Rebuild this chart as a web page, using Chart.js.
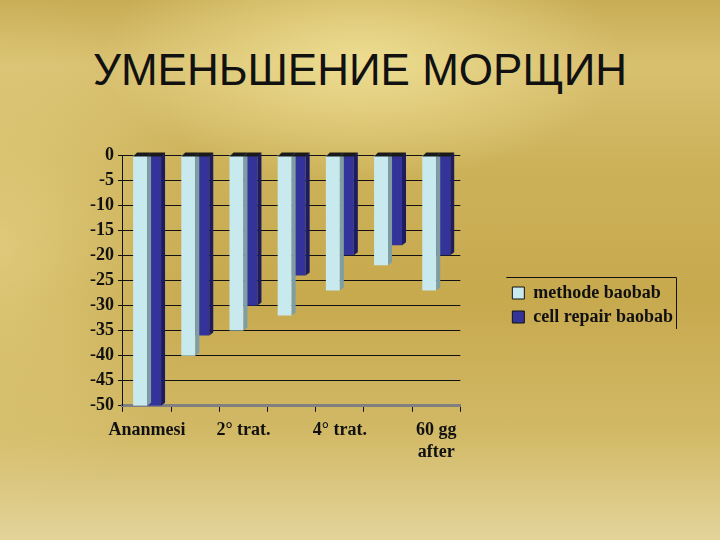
<!DOCTYPE html>
<html>
<head>
<meta charset="utf-8">
<script src="https://cdn.jsdelivr.net/npm/chart.js@4.4.0/dist/chart.umd.min.js"></script>
<style>
  html, body { margin: 0; padding: 0; }
  body {
    width: 720px; height: 540px; overflow: hidden; position: relative;
    background:
      radial-gradient(ellipse 260px 120px at 360px 60px, rgba(240,225,150,0.85), rgba(240,225,150,0) 100%),
      radial-gradient(ellipse 200px 260px at 0px 250px, rgba(232,214,140,0.7), rgba(232,214,140,0) 100%),
      linear-gradient(180deg, #c9ad55 0%, #d8c070 12%, #cdb25a 30%, #c7a94e 55%, #d2b966 80%, #e3d49a 100%);
  }
  #title {
    position: absolute; left: 0; top: 45px; width: 720px; text-align: center;
    font-family: "Liberation Sans", Arial, sans-serif; font-size: 44px; color: #111;
  }
  #wrap { position: absolute; left: 60px; top: 130px; width: 640px; height: 350px; }
</style>
</head>
<body>
<div id="title">УМЕНЬШЕНИЕ МОРЩИН</div>
<div id="wrap"><canvas id="chart"></canvas></div>
<script>
// categorie (solo una su due viene mostrata sull'asse)
const categories = ['Ananmesi', '1° trat.', '2° trat.', '3° trat.', '4° trat.', '5° trat.', ['60 gg', 'after']];
const methodeBaobab = [-50, -40, -35, -32, -27, -22, -27];
const cellRepairBaobab = [-50, -36, -30, -24, -20, -18, -20];
const yTicks = [0, -5, -10, -15, -20, -25, -30, -35, -40, -45, -50];

const serifFamily = '"Liberation Serif", "Times New Roman", serif';

// lato e cima scuri delle barre, per dare un po' di profondità
const barDepth = {
  id: 'barDepth',
  afterDatasetsDraw(chart) {
    const ctx = chart.ctx;
    const shades = ['#7f9ea3', '#1c1c5e'];
    chart.data.datasets.forEach((ds, i) => {
      chart.getDatasetMeta(i).data.forEach(bar => {
        const l = bar.x - bar.width / 2;
        const r = bar.x + bar.width / 2;
        const top = bar.base;
        const bottom = bar.y;
        ctx.save();
        ctx.fillStyle = shades[i];
        ctx.beginPath();
        ctx.moveTo(r, top);
        ctx.lineTo(r + 4, top - 3);
        ctx.lineTo(r + 4, bottom - 3);
        ctx.lineTo(r, bottom);
        ctx.closePath();
        ctx.fill();
        ctx.fillStyle = '#1a1a1a';
        ctx.beginPath();
        ctx.moveTo(l, top + 1);
        ctx.lineTo(l + 4, top - 3);
        ctx.lineTo(r + 4, top - 3);
        ctx.lineTo(r, top + 1);
        ctx.closePath();
        ctx.fill();
        ctx.restore();
      });
    });
  }
};

// cornice della legenda (solo bordo superiore e destro)
const legendFrame = {
  id: 'legendFrame',
  afterDraw(chart) {
    const lg = chart.legend;
    if (!lg || !lg.legendHitBoxes.length) return;
    const ctx = chart.ctx;
    const first = lg.legendHitBoxes[0];
    const last = lg.legendHitBoxes[lg.legendHitBoxes.length - 1];
    const x0 = first.left - 6;
    const x1 = Math.round(lg.right - 7);
    const y0 = Math.round(first.top - 7);
    const y1 = last.top + last.height + 3;
    ctx.save();
    ctx.strokeStyle = '#111';
    ctx.lineWidth = 1;
    ctx.beginPath();
    ctx.moveTo(x0, y0 + 0.5);
    ctx.lineTo(x1 + 0.5, y0 + 0.5);
    ctx.lineTo(x1 + 0.5, y1);
    ctx.stroke();
    ctx.restore();
  }
};

new Chart(document.getElementById('chart'), {
  type: 'bar',
  data: {
    labels: categories,
    datasets: [{
      label: 'methode baobab',
      data: methodeBaobab,
      backgroundColor: '#c8eaee',
      borderWidth: 0
    }, {
      label: 'cell repair baobab',
      data: cellRepairBaobab,
      backgroundColor: '#333399',
      borderWidth: 0
    }]
  },
  options: {
    responsive: true,
    maintainAspectRatio: false,
    animation: false,
    layout: { padding: { top: 25, right: 17, bottom: 9, left: 26 } },
    datasets: { bar: { categoryPercentage: 0.58, barPercentage: 1.0 } },
    plugins: {
      title: { display: false },
      tooltip: { enabled: false },
      legend: {
        position: 'right',
        align: 'start',
        maxWidth: 220,
        // titolo vuoto usato solo per abbassare le voci
        title: { display: true, text: '', color: '#111', font: { size: 12, lineHeight: 1 }, padding: { top: 111, bottom: 0 } },
        labels: {
          color: '#111',
          font: { family: serifFamily, size: 18, weight: 'bold' },
          boxWidth: 12,
          boxHeight: 12,
          padding: 6,
          generateLabels(chart) {
            return chart.data.datasets.map((ds, i) => ({
              text: ds.label,
              fillStyle: ds.backgroundColor,
              strokeStyle: '#111',
              fontColor: '#111',
              lineWidth: 1,
              datasetIndex: i
            }));
          }
        }
      }
    },
    scales: {
      x: {
        grid: { display: true, offset: true, drawOnChartArea: false, drawTicks: true, tickLength: 6, color: '#111' },
        border: { display: true, color: '#808080', width: 3 },
        ticks: {
          color: '#111',
          font: { family: serifFamily, size: 18, weight: 'bold' },
          maxRotation: 0,
          autoSkip: false,
          padding: 8,
          callback(value, index) {
            return index % 2 === 0 ? categories[index] : '';
          }
        }
      },
      y: {
        min: -50,
        max: 0,
        afterBuildTicks(scale) {
          scale.ticks = yTicks.map(v => ({ value: v }));
        },
        grid: { color: '#111', lineWidth: 1, drawTicks: true, tickLength: 5 },
        border: { display: true, color: '#111' },
        ticks: { color: '#111', autoSkip: false, font: { family: serifFamily, size: 18, weight: 'bold' }, padding: 4 }
      },
      gap: {
        position: 'right',
        display: true,
        grid: { display: false },
        border: { display: false },
        ticks: { display: false },
        afterFit(scale) { scale.width = 46; }
      }
    }
  },
  plugins: [barDepth, legendFrame]
});
</script>
</body>
</html>
